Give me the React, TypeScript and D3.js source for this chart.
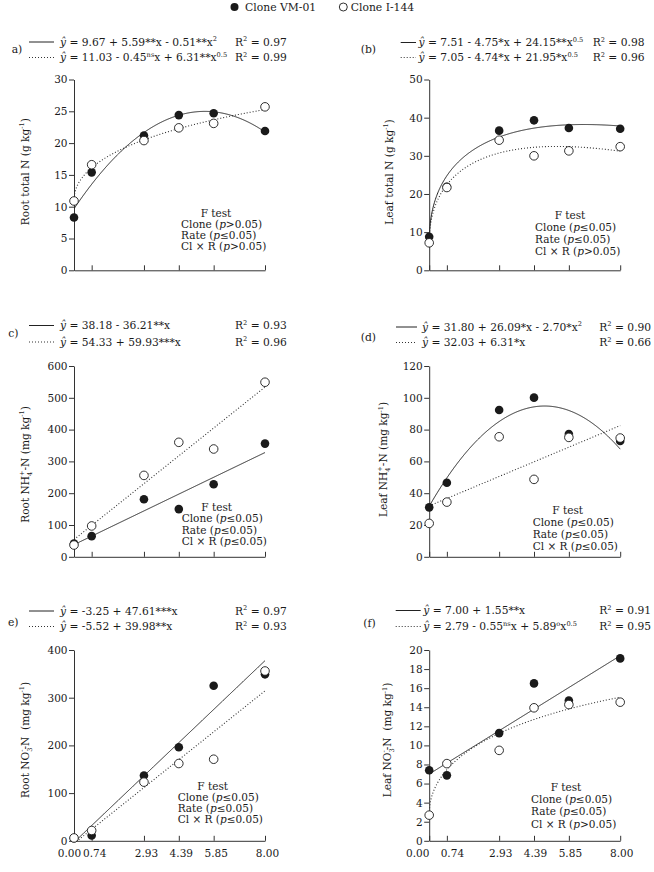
import React, { useEffect, useRef } from "react";
import * as d3 from "d3";

// N rates (x axis), shared by all six panels
const rates = [0, 0.74, 2.93, 4.39, 5.85, 8];

// clone means at each rate
const rootTotalVM = [8.3, 15.4, 21.2, 24.4, 24.7, 21.9];
const rootTotalI = [10.9, 16.6, 20.4, 22.4, 23.1, 25.7];
const leafTotalVM = [8.8, 21.9, 36.6, 39.3, 37.3, 37.1];
const leafTotalI = [7.2, 21.7, 34.1, 30.0, 31.3, 32.4];
const rootNH4VM = [42, 65, 181, 150, 228, 356];
const rootNH4I = [37, 97, 256, 360, 339, 549];
const leafNH4VM = [31.1, 46.6, 92.3, 100.1, 77.2, 72.8];
const leafNH4I = [21, 34.4, 75.5, 48.7, 75.1, 74.7];
const rootNO3VM = [5.5, 11, 137, 196, 325, 349];
const rootNO3I = [6, 21.6, 123, 162, 171, 356];
const leafNO3VM = [7.39, 6.86, 11.29, 16.5, 14.7, 19.12];
const leafNO3I = [2.69, 8.09, 9.48, 13.94, 14.28, 14.53];

// regression coefficients: [intercept, x, x^2, x^0.5]
const fitRootTotalVM = [9.67, 5.59, -0.51, 0];
const fitRootTotalI = [11.03, -0.45, 0, 6.31];
const fitLeafTotalVM = [7.51, -4.75, 0, 24.15];
const fitLeafTotalI = [7.05, -4.74, 0, 21.95];
const fitRootNH4VM = [38.18, 36.21, 0, 0];
const fitRootNH4I = [54.33, 59.93, 0, 0];
const fitLeafNH4VM = [31.8, 26.09, -2.7, 0];
const fitLeafNH4I = [32.03, 6.31, 0, 0];
const fitRootNO3VM = [-3.25, 47.61, 0, 0];
const fitRootNO3I = [-5.52, 39.98, 0, 0];
const fitLeafNO3VM = [7.0, 1.55, 0, 0];
const fitLeafNO3I = [2.79, -0.55, 0, 5.89];

// ^{} superscript, _{} subscript, ~{} italic, ${sub|sup} stacked
const eqLabels = [
  ["~{ŷ} = 9.67 + 5.59**x - 0.51**x^{2}", "~{ŷ} = 11.03 - 0.45^{ns}x + 6.31**x^{0.5}"],
  ["~{ŷ} = 7.51 - 4.75*x + 24.15**x^{0.5}", "~{ŷ} = 7.05 - 4.74*x + 21.95*x^{0.5}"],
  ["~{ŷ} = 38.18 - 36.21**x", "~{ŷ} = 54.33 + 59.93***x"],
  ["~{ŷ} = 31.80 + 26.09*x - 2.70*x^{2}", "~{ŷ} = 32.03 + 6.31*x"],
  ["~{ŷ} = -3.25 + 47.61***x", "~{ŷ} = -5.52 + 39.98**x"],
  ["~{ŷ} = 7.00 + 1.55**x", "~{ŷ} = 2.79 - 0.55^{ns}x + 5.89^{o}x^{0.5}"],
];
const r2Values = [
  ["0.97", "0.99"],
  ["0.98", "0.96"],
  ["0.93", "0.96"],
  ["0.90", "0.66"],
  ["0.97", "0.93"],
  ["0.91", "0.95"],
];
const yTitles = [
  "Root total N (g kg^{-1})",
  "Leaf total N (g kg^{-1})",
  "Root NH${4|+}-N (mg kg^{-1})",
  "Leaf NH${4|+}-N (mg kg^{-1})",
  "Root NO${3|-}-N  (mg kg^{-1})",
  "Leaf NO${3|-}-N  (mg kg^{-1})",
];
// F test signs for Clone, Rate, Cl x R
const fTests = [
  [">", "≤", ">"],
  ["≤", "≤", ">"],
  ["≤", "≤", "≤"],
  ["≤", "≤", "≤"],
  ["≤", "≤", "≤"],
  ["≤", "≤", ">"],
];
const panelTags = ["a)", "(b)", "c)", "(d)", "e)", "(f)"];
const yMaxes = [30, 50, 600, 120, 400, 20];
const ySteps = [5, 10, 100, 20, 100, 2];

const series = [
  [rootTotalVM, rootTotalI, fitRootTotalVM, fitRootTotalI],
  [leafTotalVM, leafTotalI, fitLeafTotalVM, fitLeafTotalI],
  [rootNH4VM, rootNH4I, fitRootNH4VM, fitRootNH4I],
  [leafNH4VM, leafNH4I, fitLeafNH4VM, fitLeafNH4I],
  [rootNO3VM, rootNO3I, fitRootNO3VM, fitRootNO3I],
  [leafNO3VM, leafNO3I, fitLeafNO3VM, fitLeafNO3I],
];

// page layout
const colLeft = [74, 429.2];
const rowTop = [79.5, 366, 650];
const plotW = 191;
const plotH = 190.8;
// [sample x1, sample x2, equation x, R2 x, baseline 1, baseline 2]
const eqPos = [
  [29, 54, 60, 235, 45.5, 61],
  [400.7, 416, 418.5, 592.7, 46, 61],
  [29, 54, 60, 235, 329, 345.5],
  [396, 417, 422, 599.3, 330.5, 346],
  [29, 54, 60, 235, 614.5, 630],
  [395.7, 420.7, 423.3, 599.3, 614, 630],
];
// [x, baseline, anchor]
const tagPos: [number, number, string][] = [
  [11.7, 53, "start"],
  [360.7, 53, "start"],
  [18.5, 336.5, "end"],
  [360.7, 341, "start"],
  [18.5, 626, "end"],
  [363.3, 626.5, "start"],
];
// centre of rotated y title
const yTitlePos = [
  [25, 171.7],
  [389, 172],
  [25, 464.5],
  [383.5, 459.5],
  [25, 740],
  [387.5, 740],
];
// [lines x, "F test" centre y, line gap]
const fPos = [
  [181, 212.7, 11.2],
  [535, 215, 12.2],
  [181.7, 506.7, 11.6],
  [532.7, 510, 12],
  [177.7, 785.7, 11.2],
  [531, 786.7, 12.4],
];

const FONT = "'DejaVu Serif', serif";
const INK = "#1a1a1a";

function rich(text: any, markup: string, size: number) {
  const parts = markup.split(/([\^_~$]\{[^}]*\})/).filter((s) => s !== "");
  const small = size * 0.62;
  let shift = 0;
  for (const p of parts) {
    const m = /^([\^_~$])\{(.*)\}$/.exec(p);
    const kind = m ? m[1] : "";
    const t = m ? m[2] : p;
    if (kind === "$") {
      const [sub, sup] = t.split("|");
      text
        .append("tspan")
        .attr("font-size", small)
        .attr("dy", size * 0.28 - shift)
        .text(sub);
      text
        .append("tspan")
        .attr("font-size", small)
        .attr("dx", -small * 0.64)
        .attr("dy", -size * 0.72)
        .text(sup);
      shift = -size * 0.44;
      continue;
    }
    const off = kind === "^" ? -size * 0.4 : kind === "_" ? size * 0.28 : 0;
    const ts = text.append("tspan").attr("dy", off - shift).text(t);
    if (kind === "^" || kind === "_") ts.attr("font-size", small);
    if (kind === "~") ts.attr("font-style", "italic");
    shift = off;
  }
}

const evalFit = (c: number[], v: number) =>
  c[0] + c[1] * v + c[2] * v * v + c[3] * Math.sqrt(v);

export default function App() {
  const ref = useRef<SVGSVGElement>(null);

  useEffect(() => {
    const svg = d3.select(ref.current);
    svg.selectAll("*").remove();

    const addText = (x: number, y: number, markup: string, size = 10.7, anchor = "start") => {
      const t = svg
        .append("text")
        .attr("x", x)
        .attr("y", y)
        .attr("font-family", FONT)
        .attr("font-size", size)
        .attr("fill", INK)
        .attr("text-anchor", anchor)
        .style("white-space", "pre");
      rich(t, markup, size);
      return t;
    };

    // clone legend
    svg.append("circle").attr("cx", 234.5).attr("cy", 7).attr("r", 4).attr("fill", INK);
    addText(245, 11, "Clone VM-01", 10.8);
    svg
      .append("circle")
      .attr("cx", 343.3)
      .attr("cy", 7)
      .attr("r", 4)
      .attr("fill", "#fff")
      .attr("stroke", INK)
      .attr("stroke-width", 0.9);
    addText(350.7, 11, "Clone I-144", 10.8);

    const xsFine = d3.range(0, 8.0001, 0.02);

    series.forEach(([vm, i144, fitVM, fitI], k) => {
      const col = k % 2;
      const row = Math.floor(k / 2);
      const left = colLeft[col];
      const top = rowTop[row];
      const bottom = top + plotH;
      const x = d3.scaleLinear().domain([0, 8]).range([left, left + plotW]);
      const y = d3.scaleLinear().domain([0, yMaxes[k]]).range([bottom, top]);

      // axes
      const xAxis = d3
        .axisBottom(x)
        .tickValues(rates)
        .tickSizeInner(-5)
        .tickSizeOuter(0)
        .tickPadding(8.5)
        .tickFormat(row === 2 ? (d3.format(".2f") as any) : () => "");
      const gx = svg.append("g").attr("transform", `translate(0,${bottom})`).call(xAxis);
      const yAxis = d3
        .axisLeft(y)
        .tickValues(d3.range(0, yMaxes[k] + ySteps[k] / 2, ySteps[k]))
        .tickSizeInner(5)
        .tickSizeOuter(0)
        .tickPadding(1.5);
      const gy = svg.append("g").attr("transform", `translate(${left},0)`).call(yAxis);
      [gx, gy].forEach((g) => {
        g.attr("font-family", FONT).attr("font-size", 10.5);
        g.selectAll("path, line").attr("stroke", "#333").attr("stroke-width", 1);
        g.selectAll("text").attr("fill", INK);
      });
      if (row === 2) {
        const nudge0 = col === 0 ? -5 : -12;
        const nudge1 = col === 0 ? 2.5 : 5;
        const rest = col === 0 ? 2 : 1;
        gx.selectAll("text").attr("dx", (d: any) => (d === 0 ? nudge0 : d === 0.74 ? nudge1 : rest));
      }

      // fitted curves, clipped to the plot
      const clipId = `clip-${k}`;
      svg
        .append("clipPath")
        .attr("id", clipId)
        .append("rect")
        .attr("x", left)
        .attr("y", top - 20)
        .attr("width", plotW + 1)
        .attr("height", plotH + 20);
      const curve = (c: number[]) =>
        d3
          .line<number>()
          .x((v) => x(v))
          .y((v) => y(evalFit(c, v)))(xsFine);
      svg
        .append("path")
        .attr("clip-path", `url(#${clipId})`)
        .attr("d", curve(fitI))
        .attr("fill", "none")
        .attr("stroke", "#333")
        .attr("stroke-width", 1.1)
        .attr("stroke-dasharray", "1,2");
      svg
        .append("path")
        .attr("clip-path", `url(#${clipId})`)
        .attr("d", curve(fitVM))
        .attr("fill", "none")
        .attr("stroke", "#222")
        .attr("stroke-width", 1);

      // points: filled VM-01 first, open I-144 on top
      svg
        .append("g")
        .selectAll("circle")
        .data(vm)
        .join("circle")
        .attr("cx", (_, i) => x(rates[i]))
        .attr("cy", (d) => y(d))
        .attr("r", 4.3)
        .attr("fill", INK);
      svg
        .append("g")
        .selectAll("circle")
        .data(i144)
        .join("circle")
        .attr("cx", (_, i) => x(rates[i]))
        .attr("cy", (d) => y(d))
        .attr("r", 4.3)
        .attr("fill", "#fff")
        .attr("stroke", INK)
        .attr("stroke-width", 0.9);

      // y title
      const [tx, ty] = yTitlePos[k];
      const title = svg
        .append("text")
        .attr("transform", `translate(${tx + 3.6},${ty}) rotate(-90)`)
        .attr("font-family", FONT)
        .attr("font-size", 10.6)
        .attr("fill", INK)
        .attr("text-anchor", "middle")
        .style("white-space", "pre");
      rich(title, yTitles[k], 10.6);

      // panel tag and regression equations
      const [tgx, tgy, anchor] = tagPos[k];
      addText(tgx, tgy, panelTags[k], 10.8, anchor);
      const [lx1, lx2, ex, rx, b1, b2] = eqPos[k];
      svg
        .append("line")
        .attr("x1", lx1)
        .attr("x2", lx2)
        .attr("y1", b1 - 3.5)
        .attr("y2", b1 - 3.5)
        .attr("stroke", "#222")
        .attr("stroke-width", 1);
      svg
        .append("line")
        .attr("x1", lx1)
        .attr("x2", lx2)
        .attr("y1", b2 - 3.5)
        .attr("y2", b2 - 3.5)
        .attr("stroke", "#333")
        .attr("stroke-width", 1.1)
        .attr("stroke-dasharray", "1,2");
      addText(ex, b1, eqLabels[k][0]);
      addText(ex, b2, eqLabels[k][1]);
      addText(rx, b1, `R^{2} = ${r2Values[k][0]}`);
      addText(rx, b2, `R^{2} = ${r2Values[k][1]}`);

      // F test block
      const [fx, fy, gap] = fPos[k];
      addText(fx + 35, fy + 3.8, "F test", 10.5, "middle");
      const names = ["Clone", "Rate", "Cl × R"];
      names.forEach((n, j) => {
        addText(fx, fy + 3.8 + gap * (j + 1), `${n} (~{p}${fTests[k][j]}0.05)`, 10.5);
      });
    });
  }, []);

  return (
    <svg
      ref={ref}
      width={654}
      height={872}
      style={{ position: "absolute", left: 0, top: 0, background: "#fff" }}
    />
  );
}
